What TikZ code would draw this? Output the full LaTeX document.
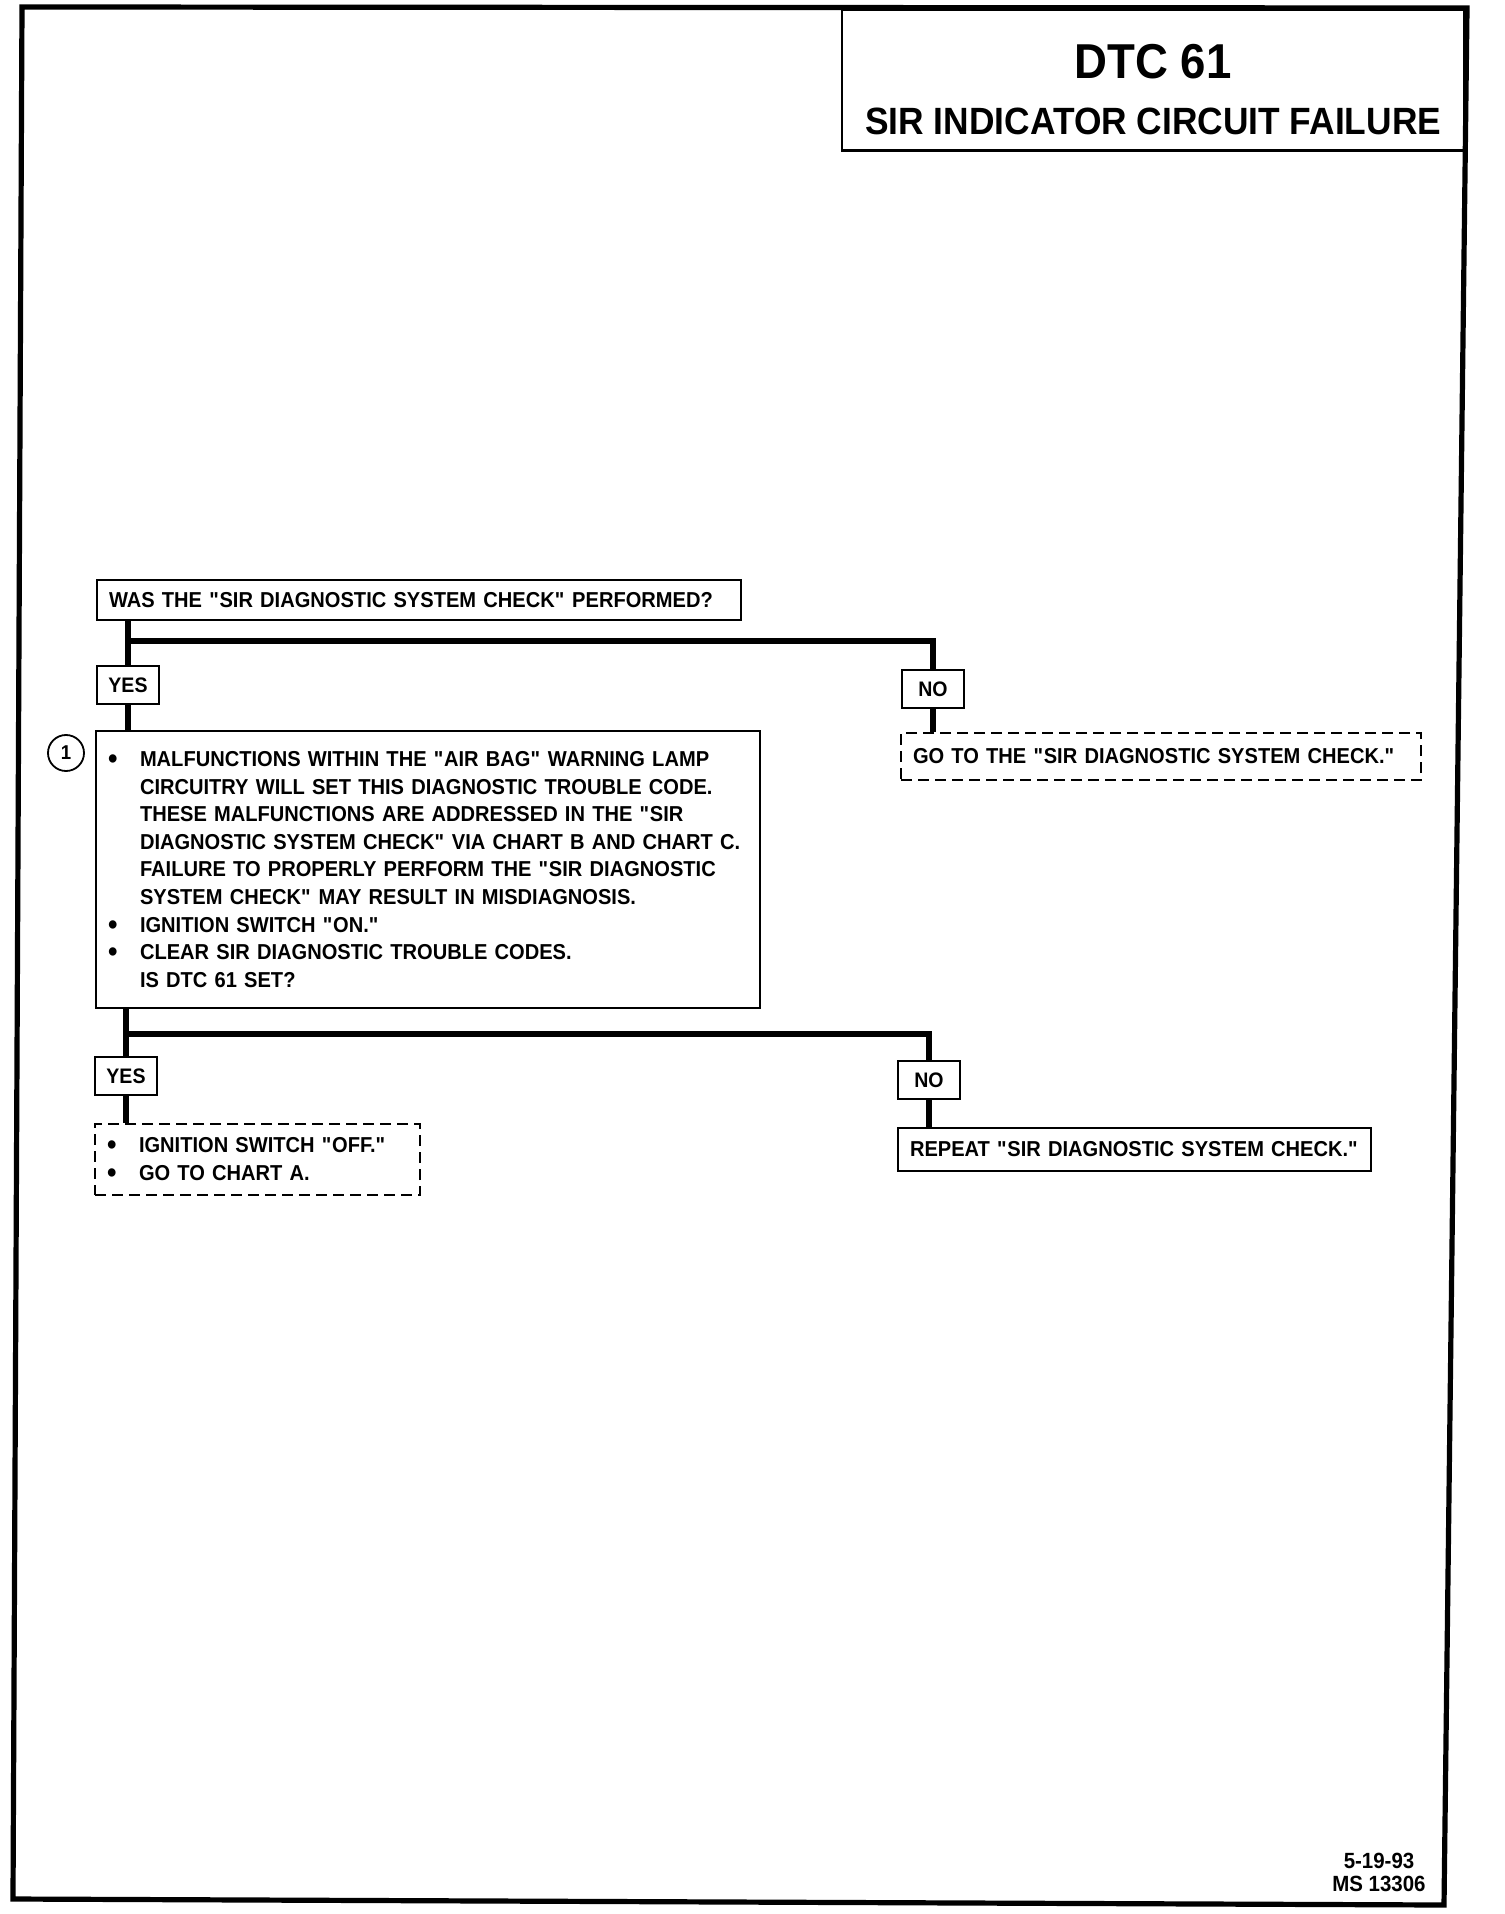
\documentclass[tikz,border=0pt]{standalone}
\usepackage{fontspec}
\setmainfont{Liberation Sans}[FakeStretch=0.93]

\newcommand{\itm}{\makebox[16pt][l]{\raisebox{-1pt}{\fontsize{14.5}{0}\selectfont\textbullet}}}
\newcommand{\ind}{\hspace*{16pt}}
\newcommand{\q}{\textquotedbl}

\tikzset{
    box/.style={draw,line width=1pt,anchor=north west,inner xsep=6pt,inner ysep=0pt,align=left,font=\bfseries\fontsize{10.8}{13.8}\selectfont},
    dbox/.style={box,dash pattern=on 5.5pt off 3pt},
    tag/.style={draw,line width=1pt,anchor=north west,inner sep=0pt,minimum width=31pt,minimum height=19pt,font=\bfseries\fontsize{10.5}{12}\selectfont},
    flow/.style={line width=3pt},
}

\begin{document}
\begin{tikzpicture}[x=0.5pt,y=-0.5pt]
    \useasboundingbox (0,0) rectangle (1504,1914);

    % 边框
    \draw[line width=2.6pt] (22,7) -- (1467,8) -- (1444,1905) -- (13,1899) -- cycle;

    % 标题
    \node[draw,line width=1.2pt,anchor=north west,minimum width=311pt,inner sep=0pt,align=center,font=\bfseries] (title) at (841,9)
        {{\fontsize{24.5}{24}\selectfont\rule{0pt}{34pt}DTC 61}\\[7pt]
         {\fontsize{19}{19}\selectfont\rule[-8pt]{0pt}{28pt}SIR INDICATOR CIRCUIT FAILURE}};

    % 方框
    \node[box,text width=310pt,minimum height=20pt] (q1) at (96,579) {WAS THE \q SIR DIAGNOSTIC SYSTEM CHECK\q{} PERFORMED?};
    \node[box,text width=320pt,minimum height=138.5pt] (main) at (95,730) {
        \itm MALFUNCTIONS WITHIN THE \q AIR BAG\q{} WARNING LAMP\\
        \ind CIRCUITRY WILL SET THIS DIAGNOSTIC TROUBLE CODE.\\
        \ind THESE MALFUNCTIONS ARE ADDRESSED IN THE \q SIR\\
        \ind DIAGNOSTIC SYSTEM CHECK\q{} VIA CHART B AND CHART C.\\
        \ind FAILURE TO PROPERLY PERFORM THE \q SIR DIAGNOSTIC\\
        \ind SYSTEM CHECK\q{} MAY RESULT IN MISDIAGNOSIS.\\
        \itm IGNITION SWITCH \q ON.\q\\
        \itm CLEAR SIR DIAGNOSTIC TROUBLE CODES.\\
        \ind IS DTC 61 SET?};
    \node[dbox,text width=248pt,minimum height=23.5pt] (go) at (900,732) {GO TO THE \q SIR DIAGNOSTIC SYSTEM CHECK.\q};
    \node[dbox,text width=150.5pt,minimum height=35.5pt,font=\bfseries\fontsize{10.8}{14}\selectfont] (off) at (94,1123) {
        \itm IGNITION SWITCH \q OFF.\q\\
        \itm GO TO CHART A.};
    \node[box,text width=224.5pt,minimum height=21.5pt] (rep) at (897,1127) {REPEAT \q SIR DIAGNOSTIC SYSTEM CHECK.\q};

    % 编号
    \node[draw,circle,line width=0.9pt,minimum size=18pt,inner sep=0pt,font=\bfseries\fontsize{10}{10}\selectfont] (n1) at (66,753) {1};

    % 是/否
    \foreach \nm/\x/\y/\t in {yes1/96/665/YES,no1/901/669/NO,yes2/94/1056/YES,no2/897/1060/NO} {
        \node[tag] (\nm) at (\x,\y) {\t};
    }

    % 连线
    \coordinate (j1) at (128,641);
    \coordinate (j2) at (126,1034);
    \draw[flow] (q1.south -| yes1.north) -- (yes1.north);
    \draw[flow] (j1) -| (no1.north);
    \draw[flow] (main.south -| yes2.north) -- (yes2.north);
    \draw[flow] (j2) -| (no2.north);
    \foreach \a/\b in {yes1/main,no1/go,yes2/off,no2/rep} {
        \draw[flow] (\a.south) -- (\a.south |- \b.north);
    }

    % 日期
    \node[align=center,font=\bfseries\fontsize{11}{11.5}\selectfont] (date) at (1379,1872) {5-19-93\\MS 13306};
\end{tikzpicture}
\end{document}
